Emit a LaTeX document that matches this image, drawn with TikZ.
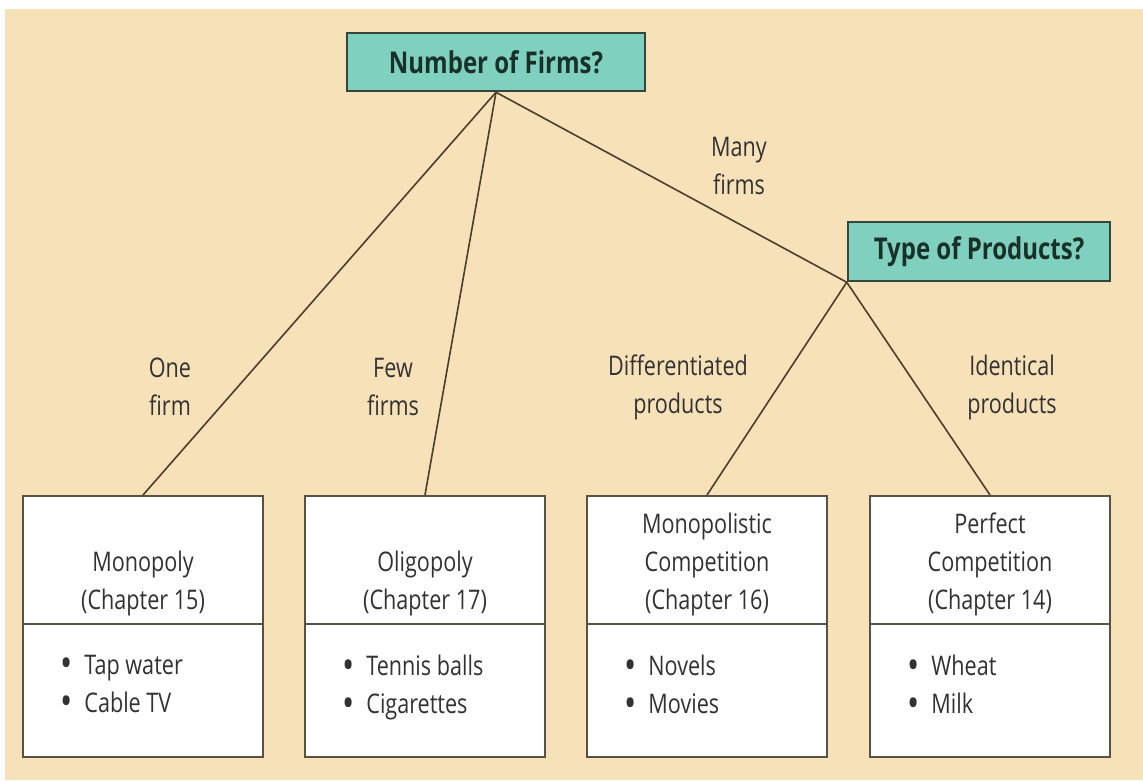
\documentclass[tikz,border=0pt]{standalone}
\usepackage{fontspec}
\setmainfont{Open Sans}[FakeStretch=0.8]

\definecolor{paper}{RGB}{247,225,185}
\definecolor{qfill}{RGB}{128,208,192}
\definecolor{qline}{RGB}{55,70,60}
\definecolor{qtext}{RGB}{25,50,40}
\definecolor{branchcol}{RGB}{75,62,45}
\definecolor{boxline}{RGB}{90,80,70}
\definecolor{ink}{RGB}{50,50,50}

\newcommand{\dotmark}{\raisebox{-3.5pt}{\scalebox{1.5}{\textbullet}}}

\tikzset{
  question/.style={draw=qline, line width=2.5pt, fill=qfill, text=qtext,
    font=\bfseries\fontsize{30}{34}\selectfont, inner sep=0pt},
  market/.style={draw=boxline, line width=2pt, fill=white,
    minimum width=240pt, minimum height=261pt, inner sep=0pt},
  branch/.style={draw=branchcol, line width=1.6pt},
  lbl/.style={align=center, text=ink, inner sep=0pt,
    font=\fontsize{27}{38}\selectfont}
}

\begin{document}
\begin{tikzpicture}[x=1pt,y=-1pt]
            \useasboundingbox (0,0) rectangle (1143,780);
            \fill[paper] (5,9) rectangle (1143,780);

            \node[question, minimum width=298pt, minimum height=58pt] (firms) at (496,62) {Number of Firms?};
            \node[question, minimum width=262pt, minimum height=59pt] (types) at (979,251.5) {Type of Products?};

            \foreach \nm/\x/\title/\itemA/\itemB in {
                mono/143/{Monopoly\\(Chapter 15)}/Tap water/Cable TV,
                oligo/425/{Oligopoly\\(Chapter 17)}/Tennis balls/Cigarettes,
                monocomp/707/{Monopolistic\\Competition\\(Chapter 16)}/Novels/Movies,
                perfect/990/{Perfect\\Competition\\(Chapter 14)}/Wheat/Milk}
            {
                \node[market] (\nm) at (\x,626.5) {};
                \draw[boxline, line width=2pt] ([yshift=2.5pt]\nm.west) -- ([yshift=2.5pt]\nm.east);
                \node[lbl, anchor=south] (\nm-title) at (\x,616) {\title};
                \node[lbl, align=left, anchor=north west] (\nm-items) at (\x-83,655)
                    {\dotmark\hspace{12pt}\itemA\\\dotmark\hspace{12pt}\itemB};
            }

            \node[lbl] (one) at (170,387) {One\\firm};
            \node[lbl] (few) at (393,387) {Few\\firms};
            \node[lbl] (many) at (739,166) {Many\\firms};
            \node[lbl] (diff) at (678,387) {Differentiated\\products};
            \node[lbl] (ident) at (1012,387) {Identical\\products};

            \draw[branch] (firms.south) -- (mono.north);
            \draw[branch] (firms.south) -- (oligo.north);
            \draw[branch] (firms.south) -- (types.south west);
            \draw[branch] (types.south west) -- (monocomp.north);
            \draw[branch] (types.south west) -- (perfect.north);
\end{tikzpicture}
\end{document}
